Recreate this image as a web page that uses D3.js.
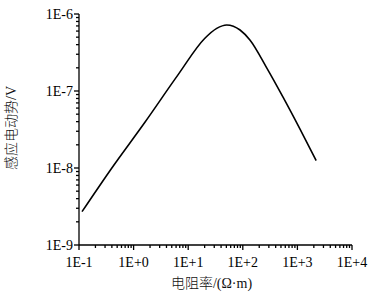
<!DOCTYPE html>
<html>
<head>
<meta charset="utf-8">
<script src="https://cdn.jsdelivr.net/npm/d3@7"></script>
<style>
body { margin: 0; background: #fff; }
</style>
</head>
<body>
<div id="chart"></div>
<script>
// data (resistivity in ohm-m, emf in V)
var resistivity = [0.1135, 0.391, 1.6, 6.5, 20, 33.3, 50.7, 89, 135, 274, 552, 1117, 2200];
var emf = [2.71e-9, 9.8e-9, 3.9e-8, 1.62e-7, 4.8e-7, 6.5e-7, 7.2e-7, 6.2e-7, 4.6e-7, 2.0e-7, 8.2e-8, 3.2e-8, 1.25e-8];
var xTicks = [1e-1, 1e0, 1e1, 1e2, 1e3, 1e4];
var xTickLabels = ["1E-1", "1E+0", "1E+1", "1E+2", "1E+3", "1E+4"];
var yTicks = [1e-9, 1e-8, 1e-7, 1e-6];
var yTickLabels = ["1E-9", "1E-8", "1E-7", "1E-6"];

var serif = "'Liberation Serif', 'Times New Roman', serif";
var cjk = "'Noto Sans CJK SC', sans-serif";

var margin = {top: 14, right: 16, bottom: 51, left: 79};
var width = 368 - margin.left - margin.right;
var height = 296 - margin.top - margin.bottom;

var svg = d3.select("#chart").append("svg")
	.attr("width", 368)
	.attr("height", 296)
	.append("g")
	.attr("transform", "translate(" + margin.left + "," + margin.top + ")");

var x = d3.scaleLog().domain([1e-1, 1e4]).range([0, width]);
var y = d3.scaleLog().domain([1e-9, 1e-6]).range([height, 0]);

//minor ticks between decades
function minors(lo, hi) {
	var out = [];
	for (var e = lo; e < hi; e++) {
		for (var m = 2; m <= 9; m++) out.push(m * Math.pow(10, e));
	}
	return out;
}
var xMinor = minors(-1, 4);
var yMinor = minors(-9, -6);

var axisG = svg.append("g").attr("stroke", "#000").attr("stroke-width", 1.3);

axisG.append("line").attr("x1", 0).attr("x2", width).attr("y1", height).attr("y2", height);
axisG.append("line").attr("x1", 0).attr("x2", 0).attr("y1", 0).attr("y2", height);

axisG.selectAll(".xMaj").data(xTicks).enter().append("line")
	.attr("x1", function(d) { return x(d); }).attr("x2", function(d) { return x(d); })
	.attr("y1", height).attr("y2", height + 5);
axisG.selectAll(".xMin").data(xMinor).enter().append("line")
	.attr("x1", function(d) { return x(d); }).attr("x2", function(d) { return x(d); })
	.attr("y1", height).attr("y2", height + 3);

axisG.selectAll(".yMaj").data(yTicks).enter().append("line")
	.attr("y1", function(d) { return y(d); }).attr("y2", function(d) { return y(d); })
	.attr("x1", 0).attr("x2", -5);
axisG.selectAll(".yMin").data(yMinor).enter().append("line")
	.attr("y1", function(d) { return y(d); }).attr("y2", function(d) { return y(d); })
	.attr("x1", 0).attr("x2", -3);

svg.selectAll(".xLab").data(xTicks).enter().append("text")
	.attr("font-family", serif)
	.attr("font-size", 14)
	.attr("fill", "#000")
	.attr("x", function(d) { return x(d); })
	.attr("y", height + 22)
	.attr("text-anchor", "middle")
	.text(function(d, i) { return xTickLabels[i]; });

svg.selectAll(".yLab").data(yTicks).enter().append("text")
	.attr("font-family", serif)
	.attr("font-size", 14)
	.attr("fill", "#000")
	.attr("x", -6)
	.attr("y", function(d) { return y(d); })
	.attr("dy", "0.35em")
	.attr("text-anchor", "end")
	.text(function(d, i) { return yTickLabels[i]; });

//axis titles
var xTitle = svg.append("text")
	.attr("x", width / 2 - 4)
	.attr("y", height + 43)
	.attr("text-anchor", "middle")
	.attr("fill", "#111")
	.attr("font-size", 14);
xTitle.append("tspan").attr("font-family", cjk).attr("font-weight", 300).text("电阻率");
xTitle.append("tspan").attr("font-family", serif).text("/(Ω·m)");

var yTitle = svg.append("text")
	.attr("transform", "translate(" + (-63) + "," + 114 + ") rotate(-90)")
	.attr("text-anchor", "middle")
	.attr("fill", "#111")
	.attr("font-size", 14);
yTitle.append("tspan").attr("font-family", cjk).attr("font-weight", 300).text("感应电动势");
yTitle.append("tspan").attr("font-family", serif).text("/V");

//the curve
var line = d3.line()
	.x(function(d) { return x(d[0]); })
	.y(function(d) { return y(d[1]); })
	.curve(d3.curveMonotoneX);

svg.append("path")
	.datum(d3.zip(resistivity, emf))
	.attr("fill", "none")
	.attr("stroke", "#000")
	.attr("stroke-width", 1.6)
	.attr("d", line);
</script>
</body>
</html>
